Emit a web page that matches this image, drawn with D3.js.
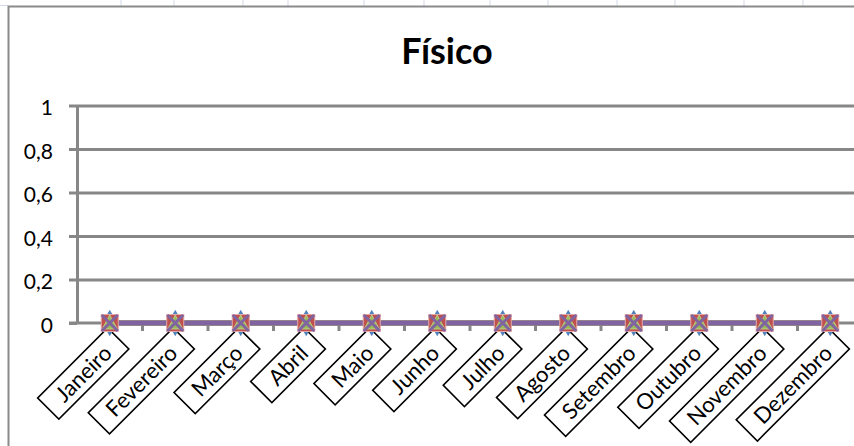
<!DOCTYPE html>
<html>
<head>
<meta charset="utf-8">
<script src="https://cdn.jsdelivr.net/npm/d3@7"></script>
<style>
  html, body { margin: 0; padding: 0; background: #fff; }
  svg { display: block; }
</style>
</head>
<body>
<script>
const title = "Físico";
const categories = ["Janeiro","Fevereiro","Março","Abril","Maio","Junho","Julho","Agosto","Setembro","Outubro","Novembro","Dezembro"];
const seriesBlue   = [0,0,0,0,0,0,0,0,0,0,0,0];
const seriesRed    = [0,0,0,0,0,0,0,0,0,0,0,0];
const seriesGreen  = [0,0,0,0,0,0,0,0,0,0,0,0];
const seriesPurple = [0,0,0,0,0,0,0,0,0,0,0,0];
const yTickValues = [0, 0.2, 0.4, 0.6, 0.8, 1];
const yTickLabels = ["0", "0,2", "0,4", "0,6", "0,8", "1"];
const sheetColumns = [121,174,243,288,364,424,490,548,617,675,744,803];

const W = 854, H = 446;
const svg = d3.select("body").append("svg").attr("width", W).attr("height", H);

// spreadsheet background grid peeking above the chart
svg.append("g").selectAll("line").data(sheetColumns).join("line")
  .attr("x1", d => d).attr("x2", d => d).attr("y1", 0).attr("y2", 6)
  .attr("stroke", "#d3d9e6").attr("stroke-width", 1);
svg.append("line").attr("x1", 0).attr("x2", 8).attr("y1", 5.5).attr("y2", 5.5)
  .attr("stroke", "#d3d9e6").attr("stroke-width", 1);

// chart area
svg.append("rect").attr("x", 8.5).attr("y", 6.5).attr("width", 900).attr("height", 500)
  .attr("fill", "#fff").attr("stroke", "#8a8a8a").attr("stroke-width", 2);

const left = 77, bandW = 65.5;
const x = d3.scaleBand().domain(categories).range([left, left + bandW * categories.length]).padding(0);
const y = d3.scaleLinear().domain([0, 1]).range([323, 105.5]);
const gridColor = "#878787";
const font = "Lato, 'Open Sans', sans-serif";

// title
svg.append("text").attr("x", 447).attr("y", 64).attr("text-anchor", "middle")
  .attr("font-family", font).attr("font-weight", "bold")
  .attr("font-size", 36).attr("fill", "#000").text(title);

// gridlines
const gridG = svg.append("g").attr("transform", `translate(${left},0)`)
  .call(d3.axisRight(y).tickValues(yTickValues.filter(v => v > 0)).tickSize(W).tickFormat(""));
gridG.select(".domain").remove();
gridG.selectAll("line").attr("stroke", gridColor).attr("stroke-width", 3);

// y axis
const yAxis = svg.append("g").attr("transform", `translate(${left},0)`)
  .call(d3.axisLeft(y).tickValues(yTickValues).tickSize(8).tickSizeOuter(0).tickPadding(16)
    .tickFormat((d, i) => yTickLabels[i]));
yAxis.select(".domain").attr("stroke", gridColor).attr("stroke-width", 3);
yAxis.selectAll("line").attr("stroke", gridColor).attr("stroke-width", 3);
yAxis.selectAll("text").attr("font-family", font)
  .attr("font-size", 21).attr("fill", "#000").attr("dy", "0.45em");

// x axis line and ticks at category boundaries
svg.append("line").attr("x1", left - 8).attr("x2", W + 20).attr("y1", y(0)).attr("y2", y(0))
  .attr("stroke", gridColor).attr("stroke-width", 3);
const boundaries = categories.map(c => x(c)).concat([x(categories[categories.length - 1]) + x.bandwidth()]);
svg.append("g").selectAll("line").data(boundaries.slice(1)).join("line")
  .attr("x1", d => d).attr("x2", d => d).attr("y1", y(0)).attr("y2", y(0) + 8)
  .attr("stroke", gridColor).attr("stroke-width", 3);

const cx = (c) => x(c) + x.bandwidth() / 2;

// category labels: rotated boxes
const labels = svg.append("g").selectAll("g").data(categories).join("g")
  .attr("transform", c => `translate(${cx(c) + 8.5},${y(0) + 15.5}) rotate(-45)`);
const rects = labels.append("rect");
const texts = labels.append("text")
  .attr("font-family", font).attr("font-size", 22).attr("fill", "#000")
  .attr("text-anchor", "middle").attr("dy", "0.36em").text(c => c);
const boxH = 30, pad = 15;
texts.each(function() {
  const len = this.getComputedTextLength();
  const w = len + pad * 2;
  d3.select(this).attr("x", -w / 2);
  d3.select(this.parentNode).select("rect")
    .attr("x", -w).attr("y", -boxH / 2).attr("width", w).attr("height", boxH)
    .attr("fill", "#fff").attr("stroke", "#000").attr("stroke-width", 1.6);
});

// series lines + markers
const lineGen = (vals) => d3.line().x((d, i) => cx(categories[i])).y(d => y(d))(vals);
const seriesList = [
  { vals: seriesBlue, color: "#4F81BD", shape: "diamond" },
  { vals: seriesRed, color: "#C0504D", shape: "square" },
  { vals: seriesGreen, color: "#9BBB59", shape: "triangle" },
  { vals: seriesPurple, color: "#8064A2", shape: "x" }
];
seriesList.forEach(s => {
  svg.append("path").attr("d", lineGen(s.vals)).attr("fill", "none")
    .attr("stroke", s.color).attr("stroke-width", 5);
});
seriesList.forEach(s => {
  const g = svg.append("g");
  s.vals.forEach((v, i) => {
    const px = cx(categories[i]), py = y(v);
    if (s.shape === "diamond") {
      g.append("path").attr("d", d3.symbol().type(d3.symbolDiamond).size(200)())
        .attr("transform", `translate(${px},${py})`).attr("fill", s.color);
    } else if (s.shape === "square") {
      g.append("rect").attr("x", px - 8.5).attr("y", py - 8.5).attr("width", 17).attr("height", 17)
        .attr("fill", s.color).attr("stroke", "#e3a9a7").attr("stroke-width", 1);
    } else if (s.shape === "triangle") {
      g.append("path").attr("d", `M${px},${py - 8} L${px + 7.5},${py + 6} L${px - 7.5},${py + 6} Z`)
        .attr("fill", s.color).attr("stroke", "#c3d69b").attr("stroke-width", 0.8);
    } else {
      g.append("path").attr("d", `M${px - 8},${py - 8} L${px + 8},${py + 8} M${px + 8},${py - 8} L${px - 8},${py + 8}`)
        .attr("stroke", s.color).attr("stroke-width", 3).attr("fill", "none");
    }
  });
});
</script>
</body>
</html>
